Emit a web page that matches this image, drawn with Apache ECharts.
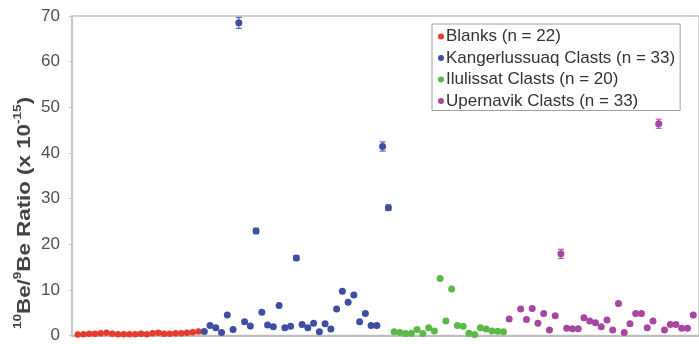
<!DOCTYPE html>
<html>
<head>
<meta charset="utf-8">
<script src="https://cdn.jsdelivr.net/npm/echarts@6/dist/echarts.min.js"></script>
<style>
html,body{margin:0;padding:0;background:#fff;}
#chart{width:699px;height:344px;}
</style>
</head>
<body>
<div id="chart"></div>
<script>
var groupNames = ['Blanks (n = 22)', 'Kangerlussuaq Clasts (n = 33)', 'Ilulissat Clasts (n = 20)', 'Upernavik Clasts (n = 33)'];
var groupColors = ['#e63b2e', '#3e4ea0', '#5cb947', '#a8479f'];
var blanks = [0.2,0.3,0.4,0.4,0.5,0.6,0.4,0.3,0.3,0.3,0.3,0.4,0.3,0.5,0.6,0.4,0.4,0.5,0.5,0.6,0.7,0.9];
var kangerlussuaq = [0.9,2.2,1.7,0.65,4.5,1.3,68.5,3.0,2.1,22.9,5.1,2.3,1.9,6.6,1.7,2.0,17.0,2.4,1.7,2.7,0.8,2.6,1.4,5.8,9.7,7.3,8.9,3.0,4.8,2.2,2.2,41.4,28.0];
var ilulissat = [0.8,0.65,0.45,0.5,1.3,0.45,1.7,1.0,12.5,3.2,10.2,2.2,2.0,0.5,0.2,1.7,1.4,1.0,0.95,0.8];
var upernavik = [3.6,null,5.8,3.5,5.9,2.7,4.8,1.2,4.3,17.9,1.6,1.5,1.5,3.9,3.2,2.8,1.9,3.4,1.2,7.0,0.65,2.6,4.8,4.8,1.7,3.2,46.4,1.2,2.4,2.4,1.6,1.6,4.5];
// error bars: [group, index within group, +/- error]
var errorBars = [[1,6,1.2],[1,9,0.6],[1,16,0.5],[1,31,1.0],[1,32,0.6],[3,9,1.0],[3,26,1.0]];
var yTicks = [0,10,20,30,40,50,60,70];

var groups = [blanks, kangerlussuaq, ilulissat, upernavik];
var series = [];
var start = 1;
var starts = [];
groups.forEach(function (vals, g) {
  starts.push(start);
  var data = vals.map(function (v, i) { return [start + i, v]; });
  series.push({
    name: groupNames[g],
    type: 'scatter',
    data: data,
    symbol: 'circle',
    symbolSize: g === 0 ? 6.5 : 7,
    itemStyle: { color: groupColors[g], opacity: 1 },
    z: 3
  });
  start += vals.length;
});
var errData = errorBars.map(function (e) {
  var v = groups[e[0]][e[1]];
  return [starts[e[0]] + e[1], v - e[2], v + e[2], e[0]];
});
series.push({
  type: 'custom',
  data: errData,
  z: 2,
  renderItem: function (params, api) {
    var x = api.value(0);
    var lo = api.coord([x, api.value(1)]);
    var hi = api.coord([x, api.value(2)]);
    var col = groupColors[api.value(3)];
    var w = 3;
    return {
      type: 'group',
      children: [
        { type: 'line', shape: { x1: lo[0], y1: lo[1], x2: hi[0], y2: hi[1] }, style: { stroke: col, lineWidth: 1 } },
        { type: 'line', shape: { x1: hi[0] - w, y1: hi[1], x2: hi[0] + w, y2: hi[1] }, style: { stroke: col, lineWidth: 1 } },
        { type: 'line', shape: { x1: lo[0] - w, y1: lo[1], x2: lo[0] + w, y2: lo[1] }, style: { stroke: col, lineWidth: 1 } }
      ]
    };
  }
});

var chart = echarts.init(document.getElementById('chart'), null, { renderer: 'canvas' });
chart.setOption({
  animation: false,
  backgroundColor: '#fff',
  textStyle: { fontFamily: 'Liberation Sans, Arial, sans-serif' },
  grid: { left: 72, right: 0, top: 16, bottom: 4, show: true, borderColor: '#c4c4c4', borderWidth: 1.5 },
  legend: {
    data: groupNames,
    orient: 'vertical',
    left: 432, top: 24,
    padding: [4, 5, 1, 6],
    itemGap: 4.5,
    itemWidth: 6, itemHeight: 6,
    icon: 'circle',
    borderColor: '#a0a0a0', borderWidth: 1,
    backgroundColor: '#fff',
    textStyle: { fontSize: 17, lineHeight: 17, color: '#333', padding: [0, 0, 0, -3] }
  },
  xAxis: {
    type: 'value', min: 0, max: 109,
    axisLine: { show: true, lineStyle: { color: '#bdbdbd', width: 2 } },
    axisTick: { show: false }, axisLabel: { show: false }, splitLine: { show: false }
  },
  yAxis: {
    type: 'value', min: 0, max: 70, interval: 10,
    axisLine: { show: true, lineStyle: { color: '#c4c4c4', width: 1.5 } },
    axisTick: { show: true, length: 3, lineStyle: { color: '#c4c4c4' } },
    axisLabel: {
      margin: 12, fontSize: 17, color: '#505050',
      formatter: function (v) { return yTicks.indexOf(v) >= 0 ? String(v) : ''; }
    },
    splitLine: { show: false }
  },
  graphic: [{
    type: 'text',
    x: 23, y: 213,
    rotation: Math.PI / 2,
    scaleX: 1.24,
    style: {
      text: '{s|10}{m|Be/}{s|9}{m|Be Ratio (x 10}{s|-15}{m|)}',
      align: 'center', verticalAlign: 'middle',
      fill: '#444',
      rich: {
        m: { fontSize: 18, fontWeight: 'bold', fill: '#444', lineHeight: 22, verticalAlign: 'bottom', fontFamily: 'Liberation Sans, Arial, sans-serif' },
        s: { fontSize: 11, fontWeight: 'bold', fill: '#444', lineHeight: 22, verticalAlign: 'top', fontFamily: 'Liberation Sans, Arial, sans-serif' }
      }
    }
  }],
  series: series
});
</script>
</body>
</html>
